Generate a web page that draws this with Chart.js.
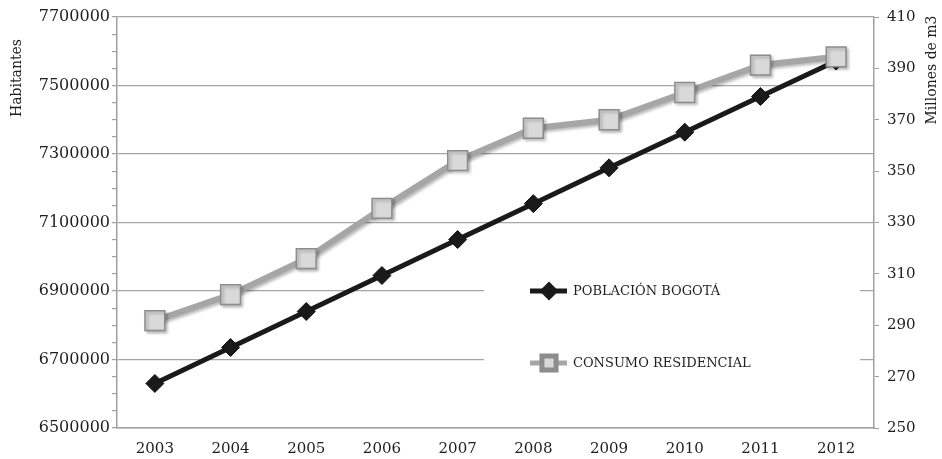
<!DOCTYPE html>
<html>
<head>
<meta charset="utf-8">
<script src="https://cdn.jsdelivr.net/npm/chart.js@4/dist/chart.umd.min.js"></script>
<style>
  html, body { margin: 0; padding: 0; background: #fff; }
  .chart-box { width: 942px; height: 459px; }
</style>
</head>
<body>
<div class="chart-box"><canvas id="chart" width="942" height="459"></canvas></div>
<script>
const years = ['2003', '2004', '2005', '2006', '2007', '2008', '2009', '2010', '2011', '2012'];
const poblacion = [6630000, 6735000, 6840116, 6945216, 7050228, 7155052, 7259597, 7363782, 7467804, 7571345];
const consumo = [291.8, 301.9, 315.9, 335.5, 354.1, 366.7, 370.0, 380.6, 391.3, 394.5];
const habRange = [6500000, 7700000];
const consumoRange = [250, 410];
const legendLabels = ['POBLACIÓN BOGOTÁ', 'CONSUMO RESIDENCIAL'];
const axisTitles = ['Habitantes', 'Millones de m3'];

const FONT = 'DejaVu Serif';
const TEXT = '#1e1e1e';
const AXIS = '#a0a0a0';

const shadowPlugin = {
  id: 'shadow',
  beforeDatasetDraw(chart, args) {
    if (args.meta.yAxisID !== 'y1') return;
    const { ctx } = chart;
    ctx.save();
    ctx.shadowColor = 'rgba(0,0,0,0.28)';
    ctx.shadowBlur = 3;
    ctx.shadowOffsetX = 2;
    ctx.shadowOffsetY = 2;
  },
  afterDatasetDraw(chart, args) {
    if (args.meta.yAxisID !== 'y1') return;
    chart.ctx.restore();
  },
};

const extrasPlugin = {
  id: 'extras',
  beforeDatasetsDraw(chart) {
    const { ctx } = chart;
    const { drawPoint } = Chart.helpers;
    ctx.save();
    // white legend box over the grid
    ctx.fillStyle = '#fff';
    ctx.fillRect(484, 232, 376, 166);

    const rows = [
      { y: 291, color: '#1a1a1a', width: 5, point: { pointStyle: 'rectRot', radius: 6, rotation: 0, borderWidth: 1 }, fill: '#1a1a1a', stroke: '#1a1a1a' },
      { y: 363, color: '#a6a6a6', width: 5, point: { pointStyle: 'rect', radius: 10, rotation: 0, borderWidth: 1.5 }, fill: '#d9d9d9', stroke: '#8c8c8c' },
    ];
    rows.forEach((row, i) => {
      ctx.strokeStyle = row.color;
      ctx.lineWidth = row.width;
      ctx.beginPath();
      ctx.moveTo(530, row.y);
      ctx.lineTo(567, row.y);
      ctx.stroke();
      ctx.fillStyle = row.fill;
      ctx.strokeStyle = row.stroke;
      drawPoint(ctx, row.point, 549, row.y);
      ctx.fillStyle = TEXT;
      ctx.font = `13px "${FONT}"`;
      ctx.textBaseline = 'middle';
      ctx.textAlign = 'left';
      ctx.fillText(legendLabels[i], 573, row.y + 1);
    });
    ctx.restore();
  },
  afterDraw(chart) {
    const { ctx } = chart;
    ctx.save();
    ctx.fillStyle = TEXT;
    ctx.font = `14px "${FONT}"`;
    ctx.textAlign = 'center';
    ctx.textBaseline = 'middle';

    ctx.translate(17, 78);
    ctx.rotate(-Math.PI / 2);
    ctx.fillText(axisTitles[0], 0, 0);
    ctx.restore();

    ctx.save();
    ctx.fillStyle = TEXT;
    ctx.font = `14px "${FONT}"`;
    ctx.textAlign = 'center';
    ctx.textBaseline = 'middle';
    ctx.translate(932, 70);
    ctx.rotate(-Math.PI / 2);
    ctx.fillText(axisTitles[1], 0, 0);
    ctx.restore();
  },
};

const ctx = document.getElementById('chart').getContext('2d');
// eslint-disable-next-line no-unused-vars
const chart = new Chart(ctx, {
  type: 'line',
  data: {
    labels: years,
    datasets: [{
      label: legendLabels[0],
      data: poblacion,
      yAxisID: 'y',
      order: 1,
      borderColor: '#1a1a1a',
      borderWidth: 5,
      backgroundColor: '#1a1a1a',
      pointStyle: 'rectRot',
      pointRadius: 9,
      pointBorderWidth: 1,
      pointBorderColor: '#111',
      pointBackgroundColor: '#1a1a1a',
      tension: 0,
    }, {
      label: legendLabels[1],
      data: consumo,
      yAxisID: 'y1',
      order: 0,
      borderColor: '#a6a6a6',
      borderWidth: 6,
      pointStyle: 'rect',
      pointRadius: 14,
      pointBorderWidth: 1.5,
      pointBorderColor: '#8c8c8c',
      pointBackgroundColor: '#d9d9d9',
      tension: 0,
    }],
  },
  options: {
    responsive: false,
    maintainAspectRatio: false,
    animation: false,
    devicePixelRatio: 1,
    layout: { padding: { top: 15, bottom: 0, left: 0, right: 0 } },
    plugins: {
      legend: { display: false },
      tooltip: { enabled: false },
    },
    scales: {
      x: {
        offset: true,
        grid: { display: false, drawTicks: false },
        border: { color: AXIS, width: 1.5 },
        ticks: { padding: 12, maxRotation: 0, color: TEXT, font: { family: FONT, size: 15 } },
        afterFit(scale) { scale.height = 31; },
      },
      y: {
        position: 'left',
        min: habRange[0],
        max: habRange[1],
        border: { color: AXIS, width: 1.5 },
        grid: {
          color: (c) => ((c.tick && (c.tick.value - habRange[0]) % 200000 === 0) ? '#a6a6a6' : 'rgba(0,0,0,0)'),
          lineWidth: 1.2,
          tickColor: AXIS,
          tickLength: 5,
        },
        ticks: {
          stepSize: 50000,
          autoSkip: false,
          padding: 2,
          color: TEXT,
          font: { family: FONT, size: 16 },
          callback: (v) => ((v - habRange[0]) % 200000 === 0 ? String(v) : ''),
        },
        afterFit(scale) { scale.width = 117; },
      },
      y1: {
        position: 'right',
        min: consumoRange[0],
        max: consumoRange[1],
        border: { color: AXIS, width: 1.5 },
        grid: { drawOnChartArea: false, tickColor: AXIS, tickLength: 5 },
        ticks: {
          stepSize: 20,
          padding: 8,
          color: TEXT,
          font: { family: FONT, size: 15 },
        },
        afterFit(scale) { scale.width = 68; },
      },
    },
  },
  plugins: [shadowPlugin, extrasPlugin],
});
</script>
</body>
</html>
